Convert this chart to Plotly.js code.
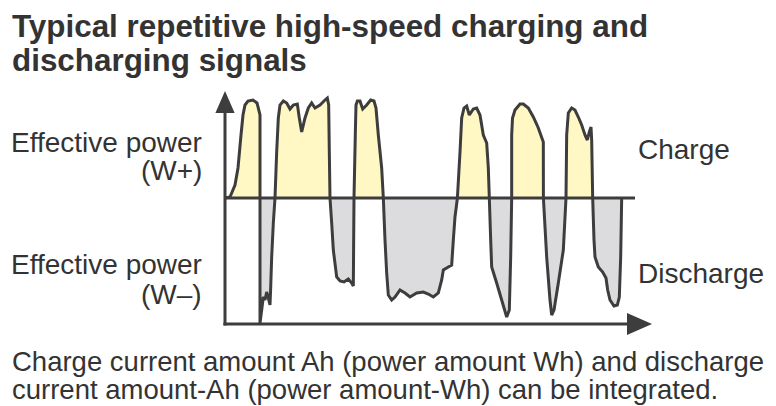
<!DOCTYPE html>
<html><head><meta charset="utf-8">
<script src="https://cdn.plot.ly/plotly-3.0.1.min.js"></script>
<style>html,body{margin:0;padding:0;background:#fff}#chart{width:776px;height:406px}</style>
</head><body><div id="chart"></div>
<script>
// Waveform (time in arbitrary units, power normalised)
const time = [0,1.25,2.5,3.25,4,4.5,5,5.75,7,8,8.75,
  8.75,9.17,9.58,10,10.42,10.83,11.25,11.4,11.67,12.08,12.5,
  12.92,13.33,13.75,14.58,15.42,16.25,17.08,18.08,18.58,19.17,20,20.83,21.67,22.5,23.75,25,25.58,25.92,26.08,26.25,
  26.67,27.08,27.92,28.75,29.75,30.83,31.67,32.08,32.25,
  32.6,32.75,33.1,33.75,34.42,35.42,36.42,37.25,37.75,38.33,39.17,39.58,
  40,40.42,40.83,41.67,42.5,43.75,45,46.25,47.92,49.58,50.83,52.08,53.33,54.17,54.58,55.83,56.67,57.08,57.5,58.1,
  58.75,59.17,59.75,60.42,61.08,62.08,62.92,63.75,64.58,65.42,65.83,66.08,
  66.42,66.67,67.92,69.17,70.42,71.08,71.42,71.67,
  71.67,71.88,72.5,73.75,74.58,75.83,77.08,78.33,79.58,79.6,
  80.42,81.25,81.67,82.25,83.33,84.58,85.25,
  85.42,85.83,86.67,87.5,88.33,89.17,90,90.58,91.08,91.5,91.67,91.92,
  92.25,92.5,93.33,94.42,95.25,95.67,96.25,97.25,98.08,98.58,98.92,99.17];
const power = [0,0.01,0.13,0.30,0.63,0.83,0.93,0.97,0.98,0.95,0.83,
  -1.25,-1.12,-0.99,-1.02,-0.94,-1.0,-1.07,-0.92,-0.59,-0.25,0,
  0.46,0.80,0.93,0.97,0.95,0.89,0.93,0.94,0.80,0.66,0.80,0.90,0.95,0.90,0.93,0.98,1.0,0.93,0.46,0,
  -0.25,-0.52,-0.79,-0.83,-0.84,-0.81,-0.85,-0.88,0,
  0.68,0.93,0.97,0.97,0.89,0.93,0.98,0.97,0.9,0.63,0.30,0,
  -0.42,-0.75,-0.97,-1.02,-0.99,-0.92,-0.95,-0.99,-0.95,-0.94,-0.96,-0.99,-0.95,-0.82,-0.72,-0.69,-0.67,-0.42,-0.19,0,
  0.46,0.80,0.90,0.92,0.83,0.89,0.90,0.83,0.63,0.55,0.30,0,
  -0.42,-0.69,-0.85,-1.02,-1.19,-1.12,-0.59,0,
  0.63,0.80,0.88,0.94,0.94,0.90,0.81,0.70,0.56,0,
  -0.59,-1.02,-1.17,-1.12,-0.85,-0.52,0,
  0.63,0.85,0.90,0.88,0.81,0.73,0.63,0.58,0.66,0.71,0.58,0,
  -0.42,-0.59,-0.69,-0.74,-0.80,-0.92,-1.02,-1.08,-1.07,-0.99,-0.59,0];

const titleLines = ["Typical repetitive high-speed charging and", "discharging signals"];
const posLabel = ["Effective power", "(W+)"];
const negLabel = ["Effective power", "(W–)"];
const regionLabels = ["Charge", "Discharge"];
const noteLines = ["Charge current amount Ah (power amount Wh) and discharge",
                   "current amount-Ah (power amount-Wh) can be integrated."];

const charge = power.map(v => Math.max(v, 0));
const discharge = power.map(v => Math.min(v, 0));

const INK = '#3d3d3d', TXT = '#333333';
const YELLOW = '#fff7c4', GREY = '#dcdcde';
const W = 776, H = 406, ML = 213, MR = 119, MT = 83, MB = 68;
const PW = W - ML - MR, PH = H - MT - MB;
const px = v => (v - ML) / PW;
const py = v => (H - MB - v) / PH;

// axis decoration extents
const AX_BOT = -1.26, END = 102.5;

const traces = [
  {x: time, y: charge, mode: 'lines', line: {width: 0}, fill: 'tozeroy', fillcolor: YELLOW, hoverinfo: 'skip'},
  {x: time, y: discharge, mode: 'lines', line: {width: 0}, fill: 'tozeroy', fillcolor: GREY, hoverinfo: 'skip'},
  {x: time, y: power, mode: 'lines', line: {color: INK, width: 3, simplify: false}, hoverinfo: 'skip'}
];

const font = (s, b) => ({family: 'Liberation Sans, Arial, sans-serif', size: s, color: TXT, weight: b ? 'bold' : 'normal'});
const ann = (text, x, y, xa, size, bold) => ({text, x: px(x), y: py(y), xref: 'paper', yref: 'paper',
  xanchor: xa, yanchor: 'middle', showarrow: false, font: font(size, bold), align: xa});

const BODY = 28, NOTE = 27.5;
const annotations = [
  ann(titleLines[0], 10, 27, 'left', 31.4, true),
  ann(titleLines[1], 10, 60, 'left', 31.4, true),
  ann(posLabel[0], 204, 142, 'right', BODY),
  ann(posLabel[1], 204, 170, 'right', BODY),
  ann(negLabel[0], 204, 264, 'right', BODY),
  ann(negLabel[1], 204, 294, 'right', BODY),
  ann(regionLabels[0], 636, 149, 'left', BODY),
  ann(regionLabels[1], 636, 273, 'left', BODY),
  ann(noteLines[0], 10, 361, 'left', NOTE),
  ann(noteLines[1], 10, 389, 'left', NOTE)
];

const shapes = [
  {type: 'line', x0: 0, x1: END, y0: 0, y1: 0, line: {color: INK, width: 3}},
  {type: 'line', x0: 0, x1: 0, y0: AX_BOT - 0.015, y1: 0.9, line: {color: INK, width: 3}},
  {type: 'line', x0: -0.4, x1: 101, y0: AX_BOT, y1: AX_BOT, line: {color: INK, width: 3}},
  {type: 'path', path: 'M -2.4,0.85 L 0,1.07 L 2.4,0.85 Z', fillcolor: INK, line: {width: 0}},
  {type: 'path', path: 'M 100.5,-1.15 L 106.75,-1.26 L 100.5,-1.37 Z', fillcolor: INK, line: {width: 0}}
];

const layout = {
  width: W, height: H, margin: {l: ML, r: MR, t: MT, b: MB},
  paper_bgcolor: '#fff', plot_bgcolor: '#fff', showlegend: false,
  xaxis: {range: [-3, 108], visible: false, fixedrange: true},
  yaxis: {range: [-1.4, 1.15], visible: false, fixedrange: true},
  annotations, shapes
};
Plotly.newPlot('chart', traces, layout, {staticPlot: true, displayModeBar: false});
</script></body></html>
